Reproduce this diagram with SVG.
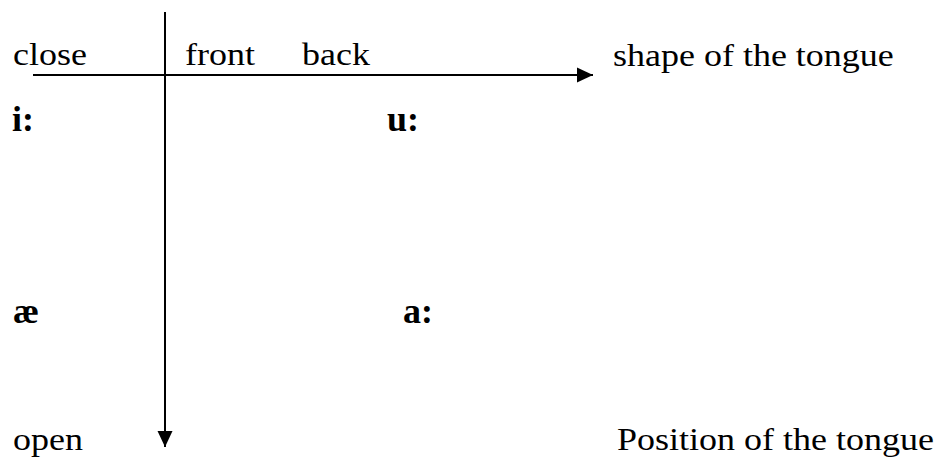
<svg xmlns="http://www.w3.org/2000/svg" width="949" height="459" viewBox="0 0 949 459">
  <style>
    text { font-family: "Liberation Serif", "Times New Roman", serif; font-size: 36px; fill: #000; }
    .b { font-weight: bold; }
    .axis { stroke: #000; stroke-width: 2; fill: none; }
  </style>
  <defs>
    <!-- filled triangular arrowhead, sized in user units -->
    <marker id="head" viewBox="0 0 16 16" refX="16" refY="8" markerWidth="16" markerHeight="16" markerUnits="userSpaceOnUse" orient="auto">
      <path d="M0,0.5 L16,8 L0,15.5 Z" fill="#000"/>
    </marker>
  </defs>
  <rect width="949" height="459" fill="#fff"/>
  <g id="connectors">
    <line class="axis" x1="33" y1="75" x2="593" y2="75" marker-end="url(#head)"/>
    <line class="axis" x1="165" y1="12" x2="165" y2="447" marker-end="url(#head)"/>
  </g>
  <!-- regular labels: slightly condensed vertically -->
  <g id="label-close" transform="translate(13,65) scale(1,0.9)"><text x="0" y="0">close</text></g>
  <g id="label-front" transform="translate(185,65) scale(1,0.9)"><text x="0" y="0">front</text></g>
  <g id="label-back" transform="translate(302,65) scale(1,0.9)"><text x="0" y="0">back</text></g>
  <g id="label-shape" transform="translate(613,66) scale(1,0.9)"><text x="0" y="0">shape of the tongue</text></g>
  <g id="vowel-i"><text class="b" x="12" y="131">i:</text></g>
  <g id="vowel-u"><text class="b" x="387" y="131">u:</text></g>
  <g id="vowel-ae"><text class="b" x="13" y="323">æ</text></g>
  <g id="vowel-a"><text class="b" x="403" y="323">a:</text></g>
  <g id="label-open" transform="translate(13,450) scale(1,0.9)"><text x="0" y="0">open</text></g>
  <g id="label-position" transform="translate(617,450) scale(1,0.9)"><text x="0" y="0">Position of the tongue</text></g>
</svg>
